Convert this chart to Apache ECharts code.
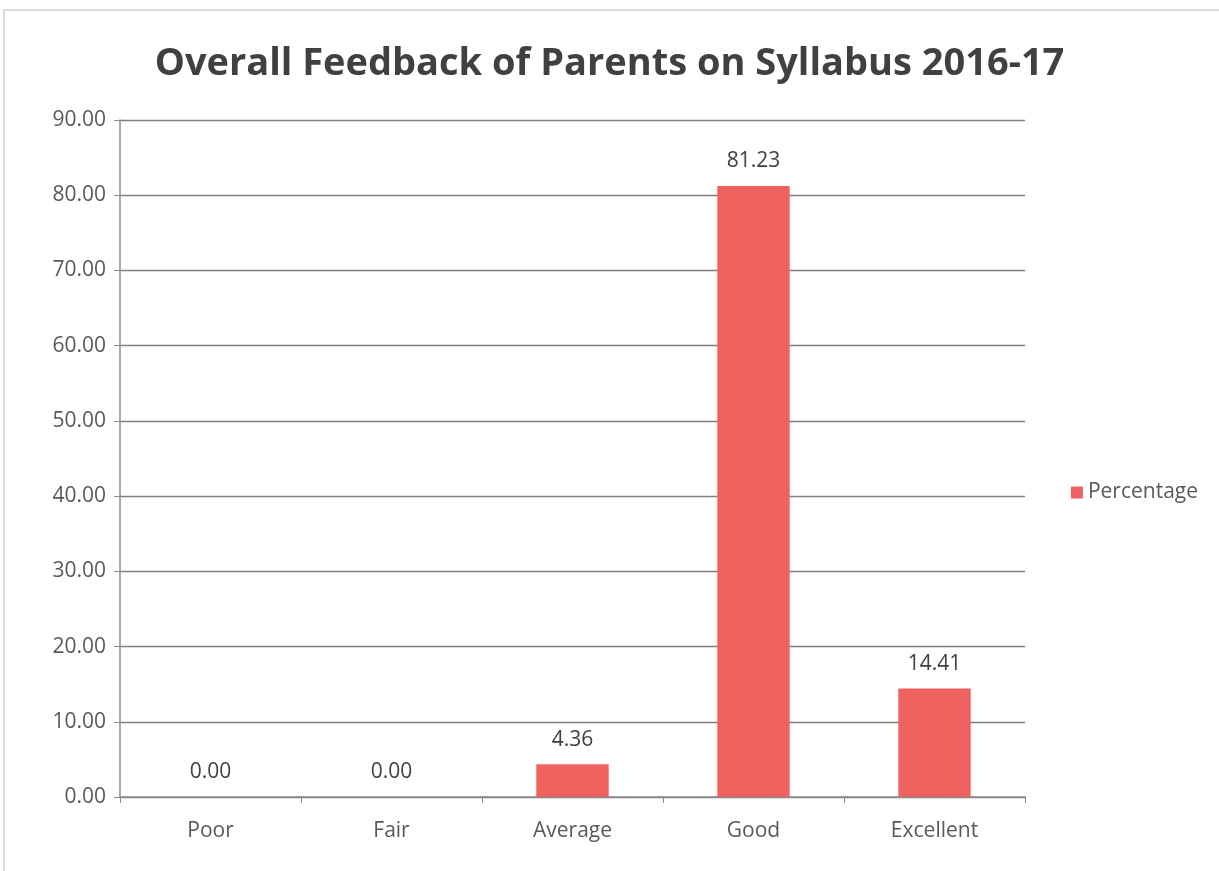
<!DOCTYPE html>
<html>
<head>
<meta charset="utf-8">
<script src="https://cdn.jsdelivr.net/npm/echarts@6/dist/echarts.min.js"></script>
<style>
  html, body { margin: 0; padding: 0; background: #fff; }
  #chart { width: 1219px; height: 871px; }
</style>
</head>
<body>
<div id="chart"></div>
<script>
// data
const categories = ['Poor', 'Fair', 'Average', 'Good', 'Excellent'];
const percentage = [0.00, 0.00, 4.36, 81.23, 14.41];

const myChart = echarts.init(document.getElementById('chart'));

const option = {
  backgroundColor: '#fff',
  textStyle: { fontFamily: 'Open Sans, sans-serif' },
  title: {
    text: 'Overall Feedback of Parents on Syllabus 2016-17',
    left: 'center',
    top: 40,
    textStyle: {
      fontSize: 38,
      fontWeight: 'bold',
      color: '#404040',
      fontFamily: 'Open Sans, sans-serif'
    }
  },
  legend: {
    orient: 'vertical',
    right: 16,
    top: 477,
    icon: 'rect',
    itemWidth: 12,
    itemHeight: 12,
    itemGap: 8,
    textStyle: { fontSize: 21, color: '#595959' },
    data: ['Percentage']
  },
  graphic: [
    {
      type: 'rect',
      shape: { x: 4, y: 10, width: 1230, height: 880 },
      style: { fill: 'none', stroke: '#d0d0d0', lineWidth: 1.5 }
    }
  ],
  grid: { left: 120, right: 194, top: 120, bottom: 74 },
  xAxis: {
    type: 'category',
    data: categories,
    axisLine: { lineStyle: { color: '#8c8c8c', width: 1.5 } },
    axisTick: { show: true, length: 6, lineStyle: { color: '#8c8c8c' } },
    axisLabel: { fontSize: 21, color: '#595959', margin: 24 }
  },
  yAxis: {
    type: 'value',
    min: 0,
    max: 90,
    interval: 10,
    axisLine: { show: true, lineStyle: { color: '#8c8c8c', width: 1.5 } },
    axisTick: { show: true, length: 6, lineStyle: { color: '#8c8c8c' } },
    axisLabel: {
      fontSize: 21,
      color: '#595959',
      margin: 14,
      formatter: v => v.toFixed(2)
    },
    splitLine: { lineStyle: { color: '#7f7f7f', width: 1.3 } }
  },
  series: [
    {
      name: 'Percentage',
      type: 'bar',
      data: percentage,
      barWidth: '40%',
      itemStyle: { color: '#f0625f' },
      label: {
        show: true,
        position: 'top',
        distance: 14,
        fontSize: 21,
        color: '#404040',
        formatter: p => p.value.toFixed(2)
      }
    }
  ]
};

myChart.setOption(option);
</script>
</body>
</html>
